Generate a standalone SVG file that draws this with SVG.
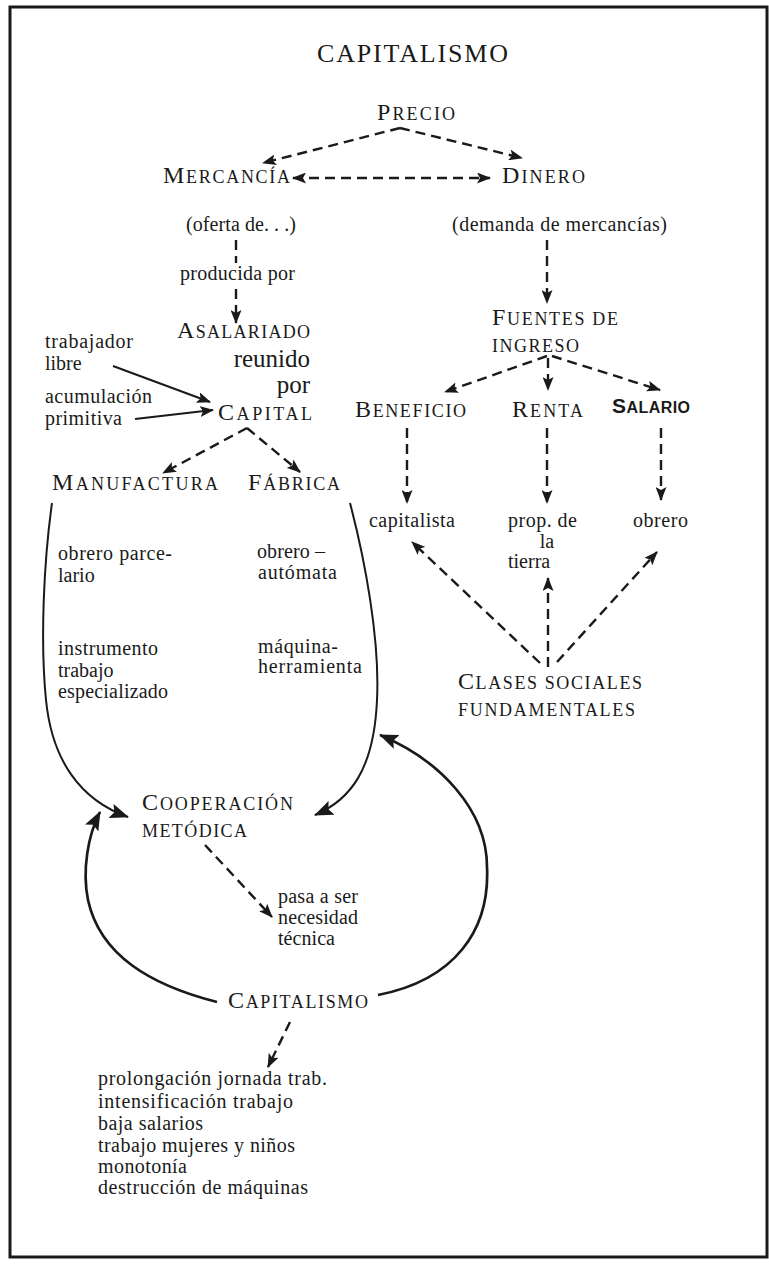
<svg xmlns="http://www.w3.org/2000/svg" width="769" height="1264" viewBox="0 0 769 1264">
<style>
text{font-family:"Liberation Serif","Times New Roman",serif;fill:#1a1a1a}
.b{font-family:"Liberation Serif","Times New Roman",serif;font-size:20px}
.big{font-family:"Liberation Serif","Times New Roman",serif;font-size:25px}
.sc{font-family:"Liberation Serif","Times New Roman",serif;font-size:18px}
.L{font-size:24px}
.ss{font-family:"Liberation Sans",Arial,sans-serif;font-weight:bold;font-size:16px}
.ssL{font-size:21px}
.d{fill:none;stroke:#1a1a1a;stroke-width:2.4;stroke-dasharray:10 6}
.s{fill:none;stroke:#1a1a1a;stroke-width:2}
.s2{fill:none;stroke:#1a1a1a;stroke-width:2.7}
</style>
<defs>
<marker id="a" viewBox="0 0 14 11" refX="13" refY="5.5" markerWidth="14" markerHeight="11" orient="auto-start-reverse" markerUnits="userSpaceOnUse"><path d="M0,0 L14,5.5 L0,11 L3,5.5 z" fill="#1a1a1a"/></marker>
<marker id="A" viewBox="0 0 19 15" refX="18" refY="7.5" markerWidth="19" markerHeight="15" orient="auto" markerUnits="userSpaceOnUse"><path d="M0,0 L19,7.5 L0,15 L3.5,7.5 z" fill="#1a1a1a"/></marker>
</defs>
<rect x="10" y="7" width="757" height="1250" fill="#fff" stroke="#1a1a1a" stroke-width="3"/>

<g id="connectors">
<path class="d" d="M400,128 L263,163" marker-end="url(#a)"/>
<path class="d" d="M400,128 L522,158" marker-end="url(#a)"/>
<path class="d" d="M293,178 L490,178" marker-start="url(#a)" marker-end="url(#a)"/>
<path class="d" d="M236,240 L236,263"/>
<path class="d" d="M236,289 L236,323" marker-end="url(#a)"/>
<path class="d" d="M547,240 L547,303" marker-end="url(#a)"/>
<path class="d" d="M547,356 L445,392" marker-end="url(#a)"/>
<path class="d" d="M548,358 L548,390" marker-end="url(#a)"/>
<path class="d" d="M552,356 L660,390" marker-end="url(#a)"/>
<path class="d" d="M407,428 L407,503" marker-end="url(#a)"/>
<path class="d" d="M547,428 L547,503" marker-end="url(#a)"/>
<path class="d" d="M661,428 L661,500" marker-end="url(#a)"/>
<path class="d" d="M540,663 L412,542" marker-end="url(#a)"/>
<path class="d" d="M548,667 L548,578" marker-end="url(#a)"/>
<path class="d" d="M557,662 L657,552" marker-end="url(#a)"/>
<path class="d" d="M247,428 L163,473" marker-end="url(#a)"/>
<path class="d" d="M247,428 L300,472" marker-end="url(#a)"/>
<path class="d" d="M205,845 L272,917" marker-end="url(#a)"/>
<path class="d" d="M290,1022 L268,1067" marker-end="url(#a)"/>
<path class="s" d="M113,366 L210,402" marker-end="url(#a)"/>
<path class="s" d="M135,419 L213,410" marker-end="url(#a)"/>
<path class="s" d="M52,503 C44,560 40,640 46,700 C52,760 80,800 128,817" marker-end="url(#A)"/>
<path class="s" d="M350,503 C365,560 380,640 377,700 C374,770 350,800 315,815" marker-end="url(#A)"/>
<path class="s2" d="M217,1002 C150,985 100,955 88,900 C82,870 88,835 100,812" marker-end="url(#A)"/>
<path class="s2" d="M378,995 C455,980 490,930 487,867 C487,810 440,760 380,735" marker-end="url(#A)"/>
</g>

<g id="title"><text x="317" y="62" font-size="26" textLength="191" lengthAdjust="spacing">CAPITALISMO</text></g>
<g id="precio"><text class="sc" x="377" y="120" textLength="78" lengthAdjust="spacing"><tspan class="L">P</tspan>RECIO</text></g>
<g id="mercancia"><text class="sc" x="163" y="183" textLength="127" lengthAdjust="spacing"><tspan class="L">M</tspan>ERCANCÍA</text></g>
<g id="dinero"><text class="sc" x="502" y="183" textLength="83" lengthAdjust="spacing"><tspan class="L">D</tspan>INERO</text></g>
<g id="oferta"><text class="b" x="186" y="231" textLength="110" lengthAdjust="spacing">(oferta de. . .)</text></g>
<g id="demanda"><text class="b" x="452" y="231" textLength="215" lengthAdjust="spacing">(demanda de mercancías)</text></g>
<g id="producida"><text class="b" x="180" y="280" textLength="115" lengthAdjust="spacing">producida por</text></g>
<g id="asalariado">
<text class="sc" x="177" y="338" textLength="133" lengthAdjust="spacing"><tspan class="L">A</tspan>SALARIADO</text>
<text class="big" x="310" y="367" text-anchor="end">reunido</text>
<text class="big" x="310" y="393" text-anchor="end">por</text>
</g>
<g id="capital"><text class="sc" x="218" y="420" textLength="94" lengthAdjust="spacing"><tspan class="L">C</tspan>APITAL</text></g>
<g id="trabajador">
<text class="b" x="45" y="348" textLength="88" lengthAdjust="spacing">trabajador</text>
<text class="b" x="45" y="370">libre</text>
</g>
<g id="acumulacion">
<text class="b" x="45" y="403" textLength="107" lengthAdjust="spacing">acumulación</text>
<text class="b" x="45" y="425" textLength="77" lengthAdjust="spacing">primitiva</text>
</g>
<g id="manufactura"><text class="sc" x="52" y="490" textLength="166" lengthAdjust="spacing"><tspan class="L">M</tspan>ANUFACTURA</text></g>
<g id="fabrica"><text class="sc" x="248" y="490" textLength="92" lengthAdjust="spacing"><tspan class="L">F</tspan>ÁBRICA</text></g>
<g id="manufactura-notes">
<text class="b" x="58" y="560" textLength="114" lengthAdjust="spacing">obrero parce-</text>
<text class="b" x="58" y="582">lario</text>
<text class="b" x="58" y="655" textLength="100" lengthAdjust="spacing">instrumento</text>
<text class="b" x="58" y="677">trabajo</text>
<text class="b" x="58" y="698" textLength="110" lengthAdjust="spacing">especializado</text>
</g>
<g id="fabrica-notes">
<text class="b" x="257" y="558" textLength="68" lengthAdjust="spacing">obrero –</text>
<text class="b" x="258" y="579" textLength="79" lengthAdjust="spacing">autómata</text>
<text class="b" x="258" y="653" textLength="80" lengthAdjust="spacing">máquina-</text>
<text class="b" x="258" y="673" textLength="104" lengthAdjust="spacing">herramienta</text>
</g>
<g id="fuentes">
<text class="sc" x="492" y="325" textLength="126" lengthAdjust="spacing"><tspan class="L">F</tspan>UENTES DE</text>
<text class="sc" x="492" y="352" textLength="87" lengthAdjust="spacing">INGRESO</text>
</g>
<g id="beneficio"><text class="sc" x="355" y="417" textLength="111" lengthAdjust="spacing"><tspan class="L">B</tspan>ENEFICIO</text></g>
<g id="renta"><text class="sc" x="512" y="417" textLength="71" lengthAdjust="spacing"><tspan class="L">R</tspan>ENTA</text></g>
<g id="salario"><text class="ss" x="612" y="413" textLength="78" lengthAdjust="spacing"><tspan class="ssL">S</tspan>ALARIO</text></g>
<g id="capitalista"><text class="b" x="369" y="527" textLength="86" lengthAdjust="spacing">capitalista</text></g>
<g id="propietario">
<text class="b" x="508" y="527" textLength="69" lengthAdjust="spacing">prop. de</text>
<text class="b" x="547" y="548" text-anchor="middle">la</text>
<text class="b" x="508" y="568">tierra</text>
</g>
<g id="obrero"><text class="b" x="633" y="527" textLength="55" lengthAdjust="spacing">obrero</text></g>
<g id="clases">
<text class="sc" x="458" y="689" textLength="184" lengthAdjust="spacing"><tspan class="L">C</tspan>LASES  SOCIALES</text>
<text class="sc" x="458" y="716" textLength="177" lengthAdjust="spacing">FUNDAMENTALES</text>
</g>
<g id="cooperacion">
<text class="sc" x="142" y="810" textLength="151" lengthAdjust="spacing"><tspan class="L">C</tspan>OOPERACIÓN</text>
<text class="sc" x="142" y="837" textLength="105" lengthAdjust="spacing">METÓDICA</text>
</g>
<g id="necesidad">
<text class="b" x="278" y="903" textLength="80" lengthAdjust="spacing">pasa a ser</text>
<text class="b" x="278" y="924" textLength="80" lengthAdjust="spacing">necesidad</text>
<text class="b" x="278" y="945" textLength="57" lengthAdjust="spacing">técnica</text>
</g>
<g id="capitalismo"><text class="sc" x="228" y="1008" textLength="140" lengthAdjust="spacing"><tspan class="L">C</tspan>APITALISMO</text></g>
<g id="consecuencias">
<text class="b" x="98" y="1085" textLength="229" lengthAdjust="spacing">prolongación jornada trab.</text>
<text class="b" x="98" y="1108" textLength="195" lengthAdjust="spacing">intensificación trabajo</text>
<text class="b" x="98" y="1130" textLength="105" lengthAdjust="spacing">baja salarios</text>
<text class="b" x="98" y="1152" textLength="197" lengthAdjust="spacing">trabajo mujeres y niños</text>
<text class="b" x="98" y="1173" textLength="89" lengthAdjust="spacing">monotonía</text>
<text class="b" x="98" y="1194" textLength="210" lengthAdjust="spacing">destrucción de máquinas</text>
</g>
</svg>
